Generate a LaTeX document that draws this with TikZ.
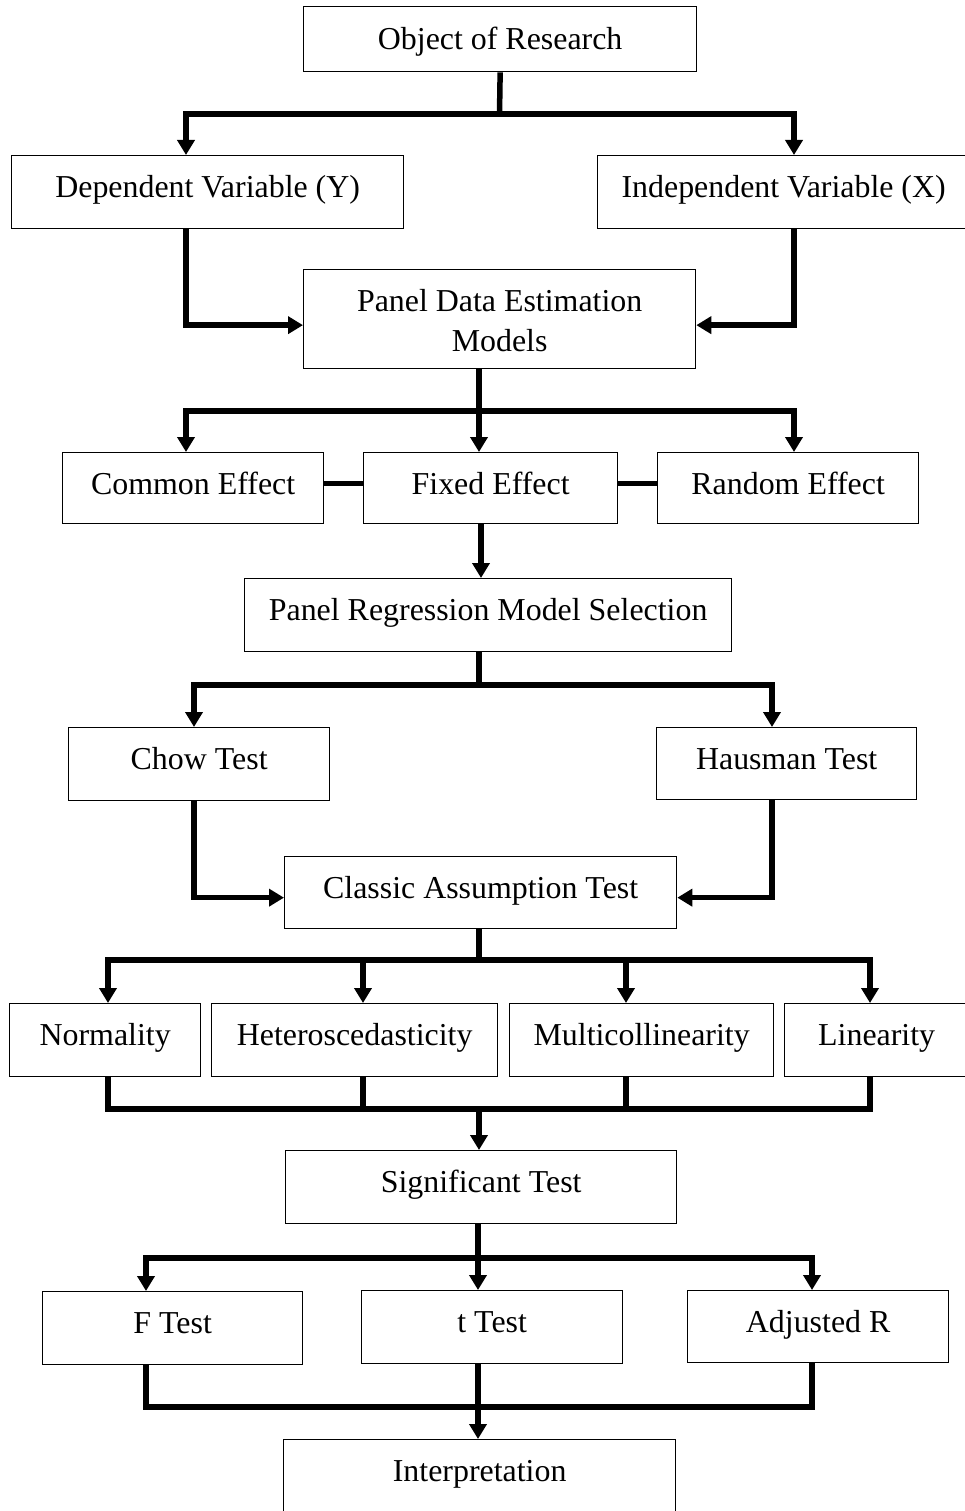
\documentclass[tikz,border=0pt]{standalone}
\usepackage{fontspec}
\setmainfont{Liberation Serif}
\usetikzlibrary{arrows.meta}
\begin{document}
\begin{tikzpicture}[x=1pt,y=-1pt,
  bx/.style={draw, line width=1.3pt, inner sep=0pt, anchor=north west, text height=41.5pt},
  conn/.style={line width=5.5pt, line join=miter},
  arr/.style={conn, -{Triangle[length=15pt,width=17pt]}},
  font=\fontsize{31.9pt}{40pt}\selectfont]
\fill[white] (0,0) rectangle (964,1511);
\useasboundingbox (0,0) rectangle (964,1511);
% boxes
\node[bx, minimum width=393pt, text height=42.5pt, text depth=22.5pt] (obj) at (303,6) {Object of Research};
\node[bx, minimum width=392pt, text depth=31.5pt] (dep) at (11,155) {Dependent Variable (Y)};
\node[bx, minimum width=372pt, text depth=31.5pt] (ind) at (597,155) {Independent Variable (X)};
\node[bx, minimum width=392pt, text height=42pt, text depth=57pt] (panel) at (303,269)
  {\vtop{\hbox to 0pt{\hss Panel Data Estimation\hss}\hbox to 0pt{\hss Models\hss}}};
\node[bx, minimum width=261pt, text depth=29.5pt] (com) at (62,452) {Common Effect};
\node[bx, minimum width=254pt, text depth=29.5pt] (fix) at (363,452) {Fixed Effect};
\node[bx, minimum width=261pt, text depth=29.5pt] (ran) at (657,452) {Random Effect};
\node[bx, minimum width=487pt, text depth=31.5pt] (prms) at (244,578) {Panel Regression Model Selection};
\node[bx, minimum width=261pt, text depth=31.5pt] (chow) at (68,727) {Chow Test};
\node[bx, minimum width=260pt, text depth=30.5pt] (haus) at (656,727) {Hausman Test};
\node[bx, minimum width=392pt, text depth=30.5pt] (cls) at (284,856) {Classic Assumption Test};
\node[bx, minimum width=191pt, text depth=31.5pt] (nor) at (9,1003) {Normality};
\node[bx, minimum width=286pt, text depth=31.5pt] (het) at (211,1003) {Heteroscedasticity};
\node[bx, minimum width=264pt, text depth=31.5pt] (mul) at (509,1003) {Multicollinearity};
\node[bx, minimum width=184pt, text depth=31.5pt] (lin) at (784,1003) {Linearity};
\node[bx, minimum width=391pt, text depth=31.5pt] (sig) at (285,1150) {Significant Test};
\node[bx, minimum width=260pt, text depth=31.5pt] (ft) at (42,1291) {F Test};
\node[bx, minimum width=261pt, text depth=31.5pt] (tt) at (361,1290) {t Test};
\node[bx, minimum width=261pt, text depth=30.5pt] (adj) at (687,1290) {Adjusted R};
\node[bx, minimum width=392pt, text height=42pt, text depth=60pt] (int) at (283,1439) {Interpretation};
% connectors
\coordinate (c1) at (499.5,114);
\coordinate (dl) at (186,114);
\coordinate (dr) at (794,114);
\draw[conn] (obj.south) -- (c1);
\draw[arr] (c1) -| (dep.north -| dl);
\draw[arr] (c1) -| (ind.north -| dr);
\draw[arr] (dep.south -| dl) |- ([yshift=-6pt]panel.west);
\draw[arr] (ind.south -| dr) |- ([yshift=-6pt]panel.east);
\coordinate (p1) at (479,411);
\coordinate (xa) at (186,411);
\coordinate (xb) at (794,411);
\draw[arr] (panel.south -| p1) -- (fix.north -| p1);
\draw[arr] (p1) -| (com.north -| xa);
\draw[arr] (p1) -| (ran.north -| xb);
\draw[conn] ([yshift=4.5pt]com.east) -- ([yshift=4.5pt]fix.west);
\draw[conn] ([yshift=4.5pt]fix.east) -- ([yshift=4.5pt]ran.west);
\coordinate (q1) at (481,550);
\draw[arr] (fix.south -| q1) -- (prms.north -| q1);
\coordinate (r1) at (479,685);
\coordinate (ra) at (194,685);
\coordinate (rb) at (772,685);
\draw[conn] (prms.south -| r1) -- (r1);
\draw[arr] (r1) -| (chow.north -| ra);
\draw[arr] (r1) -| (haus.north -| rb);
\draw[arr] (chow.south -| ra) |- ([yshift=-5pt]cls.west);
\draw[arr] (haus.south -| rb) |- ([yshift=-5pt]cls.east);
\coordinate (s1) at (479,960);
\coordinate (sa) at (108,960);
\coordinate (sb) at (363,960);
\coordinate (sc) at (626,960);
\coordinate (sd) at (870,960);
\draw[conn] (cls.south -| s1) -- (s1);
\draw[arr] (s1) -| (nor.north -| sa);
\draw[arr] (s1) -| (lin.north -| sd);
\draw[arr] (sb) -- (het.north -| sb);
\draw[arr] (sc) -- (mul.north -| sc);
\coordinate (m0) at (479,1109);
\coordinate (m1) at (108,1109);
\coordinate (m2) at (363,1109);
\coordinate (m3) at (626,1109);
\coordinate (m4) at (870,1109);
\draw[conn] (nor.south -| m1) |- (m0);
\draw[conn] (lin.south -| m4) |- (m0);
\draw[conn] (het.south -| m2) -- (m2);
\draw[conn] (mul.south -| m3) -- (m3);
\draw[arr] (m0) -- (sig.north -| m0);
\coordinate (t0) at (478,1258);
\coordinate (ta) at (146,1258);
\coordinate (tb) at (812,1258);
\draw[arr] (sig.south -| t0) -- (tt.north -| t0);
\draw[arr] (t0) -| (ft.north -| ta);
\draw[arr] (t0) -| (adj.north -| tb);
\coordinate (u0) at (478,1407);
\coordinate (ua) at (146,1407);
\coordinate (ub) at (812,1407);
\draw[conn] (ft.south -| ua) |- (u0);
\draw[conn] (adj.south -| ub) |- (u0);
\draw[conn] (tt.south -| u0) -- (u0);
\draw[arr] (u0) -- (int.north -| u0);
\end{tikzpicture}
\end{document}
